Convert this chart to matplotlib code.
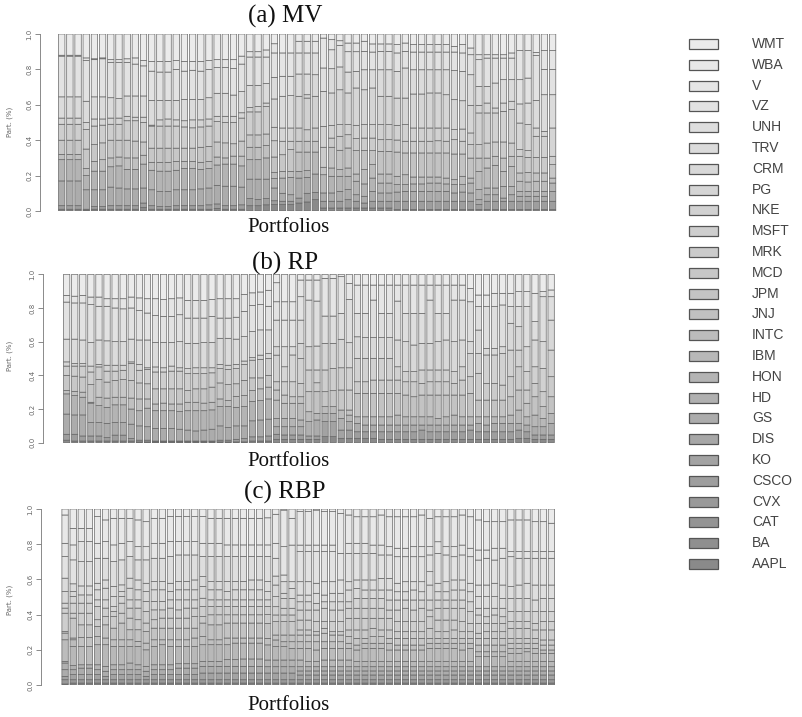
import numpy as np
import matplotlib
matplotlib.use("Agg")
import matplotlib.pyplot as plt
from matplotlib.patches import Rectangle

# tickers, bottom of the stack first (legend shows them top-down)
tickers = ["AAPL", "BA", "CAT", "CVX", "CSCO", "KO", "DIS", "GS", "HD", "HON",
           "IBM", "INTC", "JNJ", "JPM", "MCD", "MRK", "MSFT", "NKE", "PG", "CRM",
           "TRV", "UNH", "VZ", "V", "WBA", "WMT"]

# cumulative weights (segment boundaries, bottom-up)
mv_cuts = [
    [.01, .03, .17, .29, .32, .40, .49, .525, .645, .875, .88],
    [.01, .03, .17, .29, .32, .40, .49, .525, .645, .875, .88],
    [.01, .03, .17, .29, .32, .40, .49, .525, .645, .875, .88],
    [.005, .01, .12, .20, .24, .35, .46, .50, .62, .85, .865],
    [.01, .025, .12, .225, .28, .375, .48, .52, .645, .855, .86],
    [.01, .025, .12, .225, .29, .385, .485, .52, .645, .86, .865],
    [.01, .03, .135, .25, .30, .40, .49, .525, .64, .84, .855],
    [.01, .03, .13, .255, .305, .40, .49, .525, .635, .84, .855],
    [.01, .03, .125, .235, .30, .40, .51, .535, .65, .84, .86],
    [.01, .03, .125, .235, .30, .395, .51, .53, .65, .83, .865],
    [.02, .045, .13, .265, .315, .39, .50, .53, .65, .82, .85],
    [.01, .03, .12, .23, .275, .355, .48, .485, .625, .79, .845],
    [.01, .025, .11, .225, .275, .355, .48, .515, .625, .785, .845],
    [.01, .025, .11, .225, .275, .355, .48, .52, .625, .785, .845],
    [.01, .03, .12, .23, .28, .355, .48, .515, .625, .80, .85],
    [.01, .03, .12, .24, .28, .355, .475, .51, .63, .79, .845],
    [.01, .03, .12, .24, .28, .355, .47, .515, .63, .795, .845],
    [.01, .03, .125, .235, .275, .36, .475, .515, .63, .79, .845],
    [.01, .035, .13, .24, .28, .365, .48, .52, .64, .80, .85],
    [.015, .04, .145, .26, .305, .39, .505, .535, .665, .81, .855],
    [.01, .03, .14, .265, .30, .385, .50, .535, .665, .81, .855],
    [.01, .03, .14, .265, .31, .38, .50, .535, .655, .805, .855],
    [.01, .035, .135, .255, .31, .395, .525, .555, .675, .83, .875],
    [.03, .07, .18, .29, .36, .43, .56, .585, .71, .87, .90],
    [.03, .065, .18, .29, .36, .43, .56, .59, .71, .87, .90],
    [.035, .07, .18, .30, .37, .435, .59, .61, .72, .87, .91],
    [.036, .058, .13, .183, .217, .305, .397, .473, .633, .755, .893, .945],
    [.036, .055, .10, .186, .224, .318, .394, .469, .648, .761, .893],
    [.036, .055, .092, .19, .224, .347, .394, .469, .652, .761, .893],
    [.045, .073, .186, .224, .333, .394, .469, .648, .774, .893, .959],
    [.051, .10, .19, .228, .333, .394, .459, .638, .657, .774, .893, .959],
    [.064, .105, .209, .333, .394, .469, .648, .770, .893, .959],
    [.017, .055, .102, .205, .247, .36, .478, .676, .808, .977],
    [.017, .055, .102, .196, .243, .36, .412, .484, .667, .804, .911, .968],
    [.017, .055, .111, .196, .234, .343, .422, .488, .685, .814, .936, .962],
    [.017, .064, .121, .196, .243, .356, .431, .488, .667, .785, .90, .949],
    [.017, .055, .092, .168, .209, .341, .409, .484, .695, .789, .90, .949],
    [.017, .045, .083, .153, .234, .341, .412, .488, .685, .798, .902, .959],
    [.017, .055, .111, .186, .262, .341, .412, .488, .695, .798, .898, .944],
    [.017, .055, .102, .158, .209, .337, .403, .488, .648, .798, .902, .944],
    [.017, .055, .102, .158, .209, .337, .403, .488, .648, .798, .902, .944],
    [.008, .055, .107, .149, .196, .333, .401, .484, .638, .789, .893, .940],
    [.008, .055, .111, .149, .205, .328, .394, .488, .638, .808, .902, .949],
    [.008, .055, .111, .153, .192, .328, .394, .469, .661, .798, .898, .940],
    [.008, .055, .111, .153, .192, .328, .394, .469, .661, .798, .898, .940],
    [.008, .055, .111, .158, .192, .328, .394, .469, .667, .798, .898, .940],
    [.008, .055, .111, .158, .192, .328, .397, .469, .667, .798, .898, .940],
    [.008, .055, .111, .153, .186, .328, .394, .469, .657, .798, .898, .940],
    [.008, .055, .102, .149, .177, .322, .403, .460, .629, .793, .898, .930],
    [.008, .055, .107, .149, .196, .322, .394, .463, .623, .789, .893, .940],
    [.008, .055, .102, .158, .186, .299, .375, .441, .597, .770, .883, .921],
    [.008, .036, .064, .121, .224, .299, .375, .554, .597, .704, .855, .883],
    [.008, .055, .092, .130, .243, .299, .384, .554, .610, .704, .864, .883],
    [.008, .055, .092, .130, .258, .309, .390, .554, .582, .723, .864, .883],
    [.008, .055, .073, .139, .224, .299, .390, .563, .610, .742, .864, .883],
    [.008, .055, .092, .139, .252, .309, .384, .573, .620, .742, .864, .893],
    [.008, .055, .083, .111, .168, .215, .309, .347, .497, .605, .742, .906],
    [.008, .055, .083, .111, .164, .218, .303, .341, .488, .610, .751, .906],
    [.008, .055, .083, .111, .168, .215, .303, .422, .469, .625, .879, .896],
    [.008, .055, .083, .111, .168, .215, .303, .422, .450, .657, .80, .906],
    [.008, .055, .111, .158, .186, .262, .309, .469, .657, .80, .906],
]

rp_cuts = [
    [.015, .05, .17, .29, .31, .40, .455, .48, .615, .835, .875],
    [.01, .05, .165, .28, .305, .395, .455, .47, .615, .83, .87],
    [.01, .04, .165, .27, .30, .39, .455, .47, .61, .83, .875],
    [.01, .04, .12, .235, .24, .345, .42, .455, .595, .82, .865],
    [.01, .04, .12, .22, .27, .375, .45, .465, .61, .81, .865],
    [.01, .03, .115, .21, .265, .36, .425, .46, .605, .81, .855],
    [.01, .045, .12, .225, .27, .37, .425, .46, .60, .80, .855],
    [.01, .045, .12, .225, .27, .375, .43, .46, .60, .795, .855],
    [.01, .025, .11, .20, .265, .37, .47, .48, .615, .80, .865],
    [.005, .015, .10, .19, .26, .355, .43, .465, .61, .785, .86],
    [.005, .015, .095, .205, .26, .35, .435, .445, .61, .77, .855],
    [.005, .01, .085, .19, .23, .32, .42, .45, .595, .755, .855],
    [.005, .01, .085, .19, .235, .32, .42, .445, .595, .75, .85],
    [.005, .01, .085, .19, .23, .32, .425, .455, .595, .75, .855],
    [.005, .01, .08, .185, .23, .32, .425, .445, .60, .76, .86],
    [.005, .01, .075, .19, .24, .31, .41, .44, .59, .74, .845],
    [.005, .01, .07, .19, .24, .32, .41, .445, .59, .74, .845],
    [.005, .01, .075, .19, .235, .32, .41, .445, .595, .74, .845],
    [.005, .01, .08, .195, .24, .33, .415, .445, .595, .75, .85],
    [.005, .015, .10, .215, .26, .355, .44, .465, .62, .74, .855],
    [.005, .015, .09, .215, .25, .345, .435, .46, .62, .74, .855],
    [.005, .02, .10, .21, .275, .35, .44, .465, .615, .745, .855],
    [.005, .025, .10, .215, .28, .37, .465, .485, .63, .78, .88],
    [.01, .035, .13, .245, .31, .385, .49, .505, .66, .815, .89],
    [.01, .035, .135, .25, .32, .385, .495, .52, .67, .82, .895],
    [.01, .04, .14, .26, .33, .40, .50, .53, .67, .81, .905],
    [.02, .05, .095, .144, .253, .313, .362, .52, .57, .728, .837, .95],
    [.02, .046, .095, .144, .234, .283, .362, .451, .57, .728, .837],
    [.02, .046, .095, .144, .234, .273, .362, .521, .57, .728, .837],
    [.02, .046, .095, .135, .234, .273, .352, .50, .59, .728, .867, .966],
    [.02, .04, .125, .184, .303, .432, .57, .847, .966],
    [.02, .04, .135, .174, .303, .356, .432, .574, .841, .966],
    [.036, .125, .174, .214, .303, .432, .59, .752, .976],
    [.036, .125, .174, .214, .309, .441, .59, .752, .976],
    [.026, .075, .144, .194, .313, .445, .614, .768, .986],
    [.026, .075, .125, .164, .194, .313, .445, .594, .851, .946],
    [.026, .065, .115, .154, .293, .362, .501, .629, .768, .936],
    [.026, .065, .105, .154, .293, .362, .501, .624, .768, .936],
    [.026, .065, .105, .154, .293, .372, .501, .624, .847, .936],
    [.02, .065, .105, .154, .293, .372, .501, .624, .768, .936],
    [.02, .065, .105, .154, .293, .372, .501, .624, .768, .936],
    [.02, .065, .105, .164, .293, .372, .451, .61, .841, .936],
    [.02, .065, .105, .154, .283, .362, .422, .60, .768, .936],
    [.02, .065, .105, .154, .273, .362, .422, .58, .768, .936],
    [.02, .075, .105, .154, .283, .352, .432, .59, .768, .936],
    [.02, .065, .105, .154, .283, .362, .432, .59, .847, .936],
    [.02, .065, .105, .144, .283, .362, .432, .60, .768, .936],
    [.02, .065, .105, .154, .283, .362, .432, .61, .768, .936],
    [.02, .065, .105, .164, .283, .352, .422, .60, .847, .936],
    [.02, .065, .105, .154, .283, .372, .451, .61, .847, .936],
    [.02, .075, .105, .154, .293, .392, .53, .60, .837, .916],
    [.02, .065, .115, .154, .253, .412, .53, .669, .808, .877],
    [.02, .065, .105, .154, .253, .352, .521, .56, .808, .877],
    [.02, .065, .115, .154, .253, .352, .521, .56, .808, .887],
    [.02, .065, .115, .154, .253, .342, .53, .57, .818, .887],
    [.02, .065, .115, .164, .273, .392, .55, .709, .808, .887],
    [.026, .075, .115, .194, .313, .451, .55, .689, .808, .897],
    [.026, .065, .105, .154, .234, .313, .422, .57, .808, .897],
    [.02, .046, .095, .164, .273, .352, .451, .61, .719, .887],
    [.02, .046, .095, .144, .214, .303, .441, .60, .867, .897],
    [.02, .046, .115, .174, .273, .392, .55, .728, .867, .907],
]

rbp_cuts = [
    [.006, .03, .049, .087, .125, .134, .257, .295, .304, .408, .437, .465, .531, .607, .73, .805, .966],
    [.011, .03, .059, .087, .11, .219, .257, .267, .38, .408, .465, .503, .531, .575, .711, .796, .89],
    [.011, .03, .059, .096, .115, .219, .27, .342, .408, .465, .512, .563, .701, .815, .89],
    [.011, .03, .059, .096, .115, .219, .27, .342, .408, .465, .512, .563, .701, .815, .89],
    [.011, .03, .059, .087, .115, .229, .276, .333, .371, .446, .484, .541, .578, .72, .805, .957],
    [.011, .03, .049, .078, .106, .229, .267, .342, .389, .437, .484, .55, .597, .72, .815, .938],
    [.011, .03, .059, .087, .115, .219, .257, .323, .389, .418, .446, .503, .56, .701, .796, .947],
    [.011, .03, .059, .087, .115, .219, .257, .352, .408, .465, .503, .531, .569, .711, .805, .947],
    [.011, .03, .059, .087, .125, .219, .257, .314, .38, .437, .484, .55, .607, .73, .815, .947],
    [.011, .03, .059, .087, .115, .219, .248, .314, .371, .437, .484, .541, .597, .711, .786, .938],
    [.011, .03, .049, .078, .106, .20, .238, .304, .352, .418, .475, .531, .578, .711, .786, .928],
    [.011, .03, .059, .087, .115, .219, .257, .323, .371, .427, .475, .541, .588, .72, .805, .947],
    [.011, .03, .059, .087, .115, .229, .257, .323, .38, .427, .475, .541, .588, .72, .805, .947],
    [.011, .03, .059, .087, .115, .219, .257, .323, .38, .437, .484, .531, .578, .73, .815, .957],
    [.011, .03, .059, .096, .121, .219, .257, .323, .38, .427, .484, .541, .588, .739, .815, .957],
    [.011, .03, .059, .096, .121, .219, .257, .323, .38, .437, .484, .541, .588, .739, .815, .957],
    [.011, .03, .059, .096, .121, .219, .267, .323, .389, .437, .484, .541, .597, .739, .815, .957],
    [.011, .03, .068, .106, .134, .229, .276, .352, .389, .446, .493, .56, .616, .73, .805, .957],
    [.011, .03, .068, .106, .134, .229, .257, .342, .399, .446, .484, .541, .588, .73, .805, .947],
    [.011, .03, .068, .106, .134, .229, .257, .342, .399, .446, .484, .541, .588, .73, .805, .947],
    [.011, .03, .068, .106, .144, .229, .267, .352, .399, .446, .484, .531, .588, .73, .796, .947],
    [.011, .03, .068, .106, .144, .238, .267, .352, .399, .446, .484, .541, .588, .73, .796, .947],
    [.011, .03, .068, .106, .148, .238, .267, .352, .399, .446, .484, .541, .588, .73, .796, .947],
    [.011, .03, .068, .106, .148, .238, .267, .352, .399, .446, .484, .541, .597, .73, .796, .947],
    [.011, .03, .068, .106, .148, .238, .267, .352, .399, .446, .484, .541, .597, .73, .796, .947],
    [.011, .03, .068, .104, .142, .228, .265, .35, .40, .446, .484, .531, .588, .73, .796, .95],
    [.011, .03, .068, .104, .142, .218, .256, .284, .36, .398, .445, .502, .568, .619, .72, .805, .97],
    [.011, .03, .068, .104, .142, .218, .246, .284, .36, .398, .436, .492, .521, .587, .625, .786, .994],
    [.011, .03, .068, .104, .142, .208, .246, .284, .36, .398, .436, .492, .549, .587, .795, .947],
    [.011, .03, .057, .08, .104, .142, .208, .246, .284, .313, .369, .426, .473, .511, .587, .758, .795, .985],
    [.011, .03, .057, .08, .104, .133, .208, .246, .284, .313, .369, .426, .473, .511, .587, .758, .795, .985],
    [.011, .03, .057, .08, .104, .133, .199, .246, .284, .303, .36, .426, .464, .521, .578, .758, .795, .994],
    [.011, .03, .057, .08, .104, .142, .208, .246, .294, .322, .36, .436, .473, .511, .587, .758, .795, .985],
    [.011, .03, .057, .08, .104, .142, .208, .246, .284, .303, .36, .426, .473, .521, .587, .758, .795, .985],
    [.011, .03, .057, .08, .104, .142, .208, .246, .284, .303, .36, .426, .473, .521, .597, .748, .975],
    [.011, .03, .057, .08, .104, .142, .208, .237, .275, .313, .379, .436, .473, .54, .587, .748, .805, .966],
    [.011, .03, .057, .08, .104, .133, .199, .227, .265, .313, .379, .436, .492, .549, .597, .748, .805, .956],
    [.011, .03, .057, .08, .104, .133, .208, .237, .265, .313, .379, .436, .492, .54, .597, .748, .805, .956],
    [.011, .03, .057, .08, .104, .133, .208, .237, .275, .322, .379, .436, .492, .54, .597, .748, .795, .956],
    [.011, .03, .057, .08, .104, .133, .208, .237, .275, .313, .379, .436, .492, .54, .606, .739, .795, .966],
    [.011, .03, .057, .08, .104, .133, .199, .237, .265, .313, .379, .426, .483, .54, .606, .739, .786, .956],
    [.011, .03, .057, .08, .104, .133, .199, .227, .265, .303, .36, .426, .483, .53, .578, .729, .777, .956],
    [.011, .03, .057, .08, .104, .133, .199, .227, .265, .303, .36, .436, .483, .53, .587, .729, .777, .956],
    [.011, .03, .057, .08, .104, .133, .199, .227, .265, .303, .36, .426, .483, .54, .587, .729, .786, .956],
    [.011, .03, .057, .08, .104, .133, .199, .227, .265, .303, .36, .436, .483, .53, .587, .729, .786, .966],
    [.011, .03, .057, .08, .104, .133, .208, .237, .265, .322, .388, .426, .483, .568, .644, .739, .786, .947],
    [.011, .03, .057, .08, .104, .133, .208, .237, .265, .303, .369, .436, .483, .53, .578, .748, .814, .956],
    [.011, .03, .057, .08, .104, .133, .208, .237, .265, .303, .369, .436, .483, .53, .587, .739, .786, .956],
    [.011, .03, .057, .08, .104, .133, .208, .237, .265, .313, .369, .436, .483, .54, .597, .729, .786, .956],
    [.011, .03, .057, .08, .104, .133, .199, .237, .265, .303, .36, .436, .483, .54, .597, .739, .795, .966],
    [.011, .03, .057, .08, .104, .133, .208, .237, .265, .303, .35, .417, .473, .53, .578, .729, .777, .956],
    [.011, .03, .057, .08, .104, .161, .189, .227, .265, .294, .35, .398, .436, .502, .568, .71, .767, .938],
    [.011, .03, .057, .08, .104, .161, .189, .227, .265, .303, .35, .388, .436, .502, .568, .72, .767, .928],
    [.011, .03, .057, .08, .104, .161, .189, .227, .265, .303, .35, .398, .436, .502, .578, .71, .777, .928],
    [.011, .03, .057, .08, .104, .161, .189, .227, .265, .303, .35, .388, .436, .492, .568, .72, .777, .928],
    [.011, .03, .057, .08, .104, .133, .18, .208, .237, .265, .322, .36, .417, .492, .559, .729, .758, .938],
    [.011, .03, .057, .08, .104, .133, .18, .208, .237, .265, .322, .36, .417, .492, .568, .72, .758, .938],
    [.011, .03, .057, .08, .104, .133, .189, .208, .237, .265, .322, .36, .417, .492, .578, .72, .758, .938],
    [.011, .03, .057, .08, .104, .133, .18, .208, .237, .265, .313, .35, .417, .483, .568, .72, .758, .928],
    [.011, .03, .057, .08, .104, .133, .18, .199, .227, .256, .313, .36, .417, .492, .568, .72, .758, .928],
    [.011, .03, .057, .08, .104, .133, .18, .199, .227, .256, .313, .36, .417, .492, .568, .72, .758, .919],
]

titles = ["(a) MV", "(b) RP", "(c) RBP"]


def weights_from_cuts(cuts):
    # turn boundary rows into a portfolios x assets weight table
    n_assets = len(tickers)
    W = np.zeros((len(cuts), n_assets))
    for i, row in enumerate(cuts):
        seg = np.diff([0.0] + list(row) + [1.0])
        pos = np.linspace(0, 1, len(seg)) ** 0.75
        idx = np.round(pos * (n_assets - 1)).astype(int)
        W[i, idx] = seg
    return W


# R-like gray.colors ramp, dark at the bottom
g = 2.2
s, e = 0.54, 0.92
t = np.linspace(0, 1, len(tickers))
lev = (s ** g + t * (e ** g - s ** g)) ** (1 / g)
colors = [(v, v, v) for v in lev]

W_px, H_px = 802, 717
fig = plt.figure(figsize=(W_px / 100, H_px / 100), dpi=100)

# panel geometry in pixels: spine x, first bar left, last bar right, y of 0 and 1
panels = [
    (mv_cuts, 40.0, 58.3, 556.0, 211.0, 34.0),
    (rp_cuts, 43.3, 63.3, 554.5, 442.7, 274.3),
    (rbp_cuts, 41.0, 61.7, 554.8, 685.0, 509.0),
]

edge = "#666666"
for cuts, A, L, R, y0, y1 in panels:
    W = weights_from_cuts(cuts)
    nbar = W.shape[0]
    x = 0.7 + 1.2 * np.arange(nbar)
    span = 1.2 * nbar - 0.2
    scale = (R - L) / span
    m = (L - A) / scale
    right_px = R + (L - A)
    ax = fig.add_axes([A / W_px, 1 - y0 / H_px, (right_px - A) / W_px, (y0 - y1) / H_px])
    bottom = np.zeros(nbar)
    for j in range(len(tickers)):
        h = W[:, j]
        ec = [edge if v > 0 else "none" for v in h]
        ax.bar(x, h, bottom=bottom, width=0.94, color=colors[j],
               edgecolor=ec, linewidth=0.5, snap=False)
        bottom = bottom + h
    ax.set_xlim(0.2 - m, 0.2 + span + m)
    ax.set_ylim(0, 1)
    for sp in ["top", "right", "bottom"]:
        ax.spines[sp].set_visible(False)
    ax.spines["left"].set_color("#777777")
    ax.spines["left"].set_linewidth(0.6)
    ax.set_xticks([])
    ax.set_yticks([0, 0.2, 0.4, 0.6, 0.8, 1.0])
    ax.set_yticklabels(["0.0", "0.2", "0.4", "0.6", "0.8", "1.0"], rotation=90, va="center")
    ax.tick_params(axis="y", length=3.5, width=0.6, color="#777777",
                   labelsize=5, labelcolor="#666666", pad=2)
    ax.patch.set_alpha(0)

# overlay for titles, labels and legend in pixel coordinates
ov = fig.add_axes([0, 0, 1, 1])
ov.set_xlim(0, W_px)
ov.set_ylim(H_px, 0)
ov.axis("off")

serif = ["Liberation Serif", "DejaVu Serif"]
title_y = [16, 263, 492]
port_y = [228, 461, 706]
lab_y = [122, 356, 600]
for k in range(3):
    ov.text(285, title_y[k], titles[k], ha="center", va="center",
            fontsize=18, family=serif, color="#111111")
    ov.text(288, port_y[k], "Portfolios", ha="center", va="center",
            fontsize=15, family=serif, color="#111111")
    ov.text(10, lab_y[k], "Part. (%)", ha="center", va="center", rotation=90,
            fontsize=5, color="#666666")

# legend: WMT on top down to AAPL
step = (564 - 44) / (len(tickers) - 1)
for k, name in enumerate(tickers[::-1]):
    yc = 44 + k * step
    col = colors[len(tickers) - 1 - k]
    ov.add_patch(Rectangle((689, yc - 5), 29, 10, facecolor=col,
                           edgecolor="#555555", linewidth=0.9))
    ov.text(752, yc, name, ha="left", va="center", fontsize=10,
            family=["Liberation Sans", "DejaVu Sans"], color="#444444")

fig.savefig("out.png", dpi=100)
